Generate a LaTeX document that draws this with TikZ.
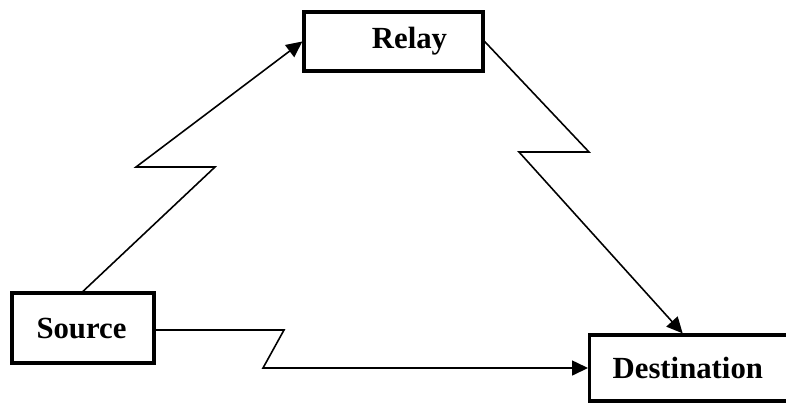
\documentclass[tikz,border=0pt]{standalone}
\usepackage{fontspec}
\setmainfont{Liberation Serif}
\usepackage{tikz}
\usetikzlibrary{arrows.meta}
\usetikzlibrary{positioning}

\begin{document}
\begin{tikzpicture}[x=0.02cm,y=-0.02cm,
	box/.style={draw,line width=1.9pt,font=\fontsize{17.5}{20}\selectfont\bfseries},
	link/.style={line width=0.9pt,-{Triangle[length=3.2mm,width=3mm]}}]
	\useasboundingbox (0,0) rectangle (786,403);
	\clip (0,0) rectangle (786,403);
	
	\node[box,minimum width=2.84cm,minimum height=1.4cm] (src) at (83,328) {Source\hspace*{0.06cm}};
	\node[box,minimum width=3.58cm,minimum height=1.18cm] (relay) at (393.5,41.5) {\hspace*{0.64cm}Relay};
	\node[box,anchor=west,inner xsep=0.46cm,text width=3.2cm,align=left,minimum height=1.32cm] (dest) at (588,368) {Destination};
	
	% zigzag links
	\draw[link] (src.north) -- (215,167) -- (136,167) -- (relay.west);
	\draw[link] (relay.east) -- (589,152) -- (519,152) -- ([xshift=-0.2cm]dest.north);
	\draw[link] ([yshift=-0.04cm]src.east) -- (284,330) -- (263,368) -- (dest.west);
\end{tikzpicture}
\end{document}
